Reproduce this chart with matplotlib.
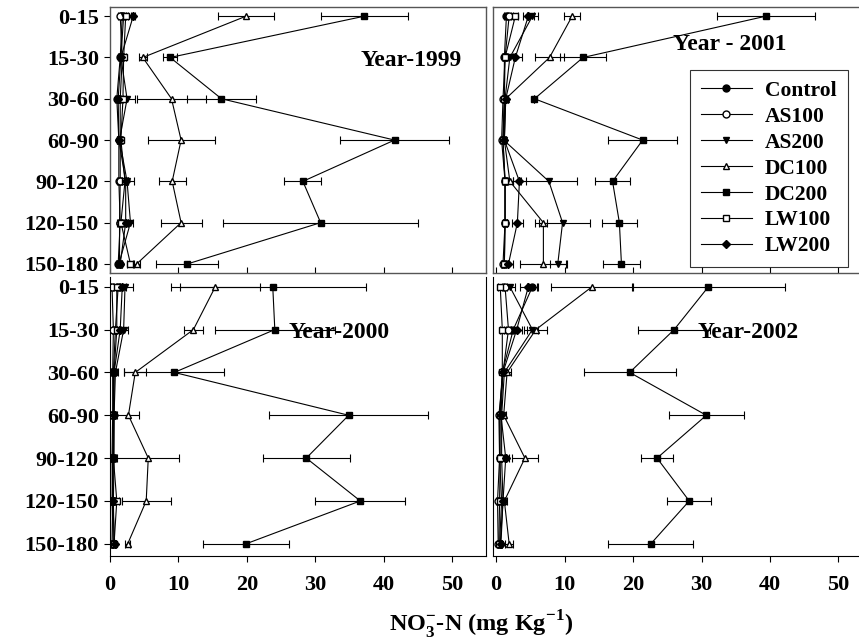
import matplotlib
matplotlib.use('Agg')
import matplotlib.pyplot as plt
from matplotlib.lines import Line2D
import numpy as np

plt.rcParams['font.family'] = ['Liberation Serif', 'DejaVu Serif']
plt.rcParams['font.weight'] = 'bold'
plt.rcParams['mathtext.fontset'] = 'custom'
plt.rcParams['mathtext.rm'] = 'Liberation Serif:bold'
plt.rcParams['mathtext.bf'] = 'Liberation Serif:bold'

depths = ['0-15', '15-30', '30-60', '60-90', '90-120', '120-150', '150-180']
treatments = ['Control', 'AS100', 'AS200', 'DC100', 'DC200', 'LW100', 'LW200']
markers = ['o', 'o', 'v', '^', 's', 's', 'D']
faces = ['black', 'white', 'black', 'white', 'black', 'white', 'black']

# NO3-N means per treatment, one list per year
y1999 = {
    'Control': [1.8, 1.5, 1.0, 1.3, 1.3, 1.5, 1.2],
    'AS100': [1.5, 1.8, 1.5, 1.5, 1.5, 1.4, 1.4],
    'AS200': [2.0, 1.6, 2.5, 1.4, 2.5, 3.0, 1.3],
    'DC100': [19.9, 4.8, 9.0, 10.4, 9.1, 10.4, 3.9],
    'DC200': [37.2, 8.8, 16.3, 41.6, 28.2, 30.8, 11.3],
    'LW100': [2.3, 2.0, 1.9, 1.6, 2.2, 1.6, 3.0],
    'LW200': [3.4, 1.6, 1.2, 1.3, 2.3, 2.3, 1.5],
}
e1999 = {
    'Control': [0.3, 0.3, 0.3, 0.3, 0.3, 0.3, 0.3],
    'AS100': [0.3, 0.3, 0.4, 0.3, 0.3, 0.3, 0.3],
    'AS200': [0.4, 0.3, 1.2, 0.3, 1.0, 0.4, 0.3],
    'DC100': [4.1, 0.6, 5.1, 4.9, 2.0, 3.0, 0.5],
    'DC200': [6.3, 1.0, 5.0, 7.9, 2.7, 14.3, 4.5],
    'LW100': [0.4, 0.3, 0.4, 0.3, 0.4, 0.3, 0.5],
    'LW200': [0.3, 0.3, 0.3, 0.3, 0.3, 0.3, 0.3],
}

y2001 = {
    'Control': [1.5, 1.2, 1.2, 1.0, 1.3, 1.3, 1.2],
    'AS100': [1.9, 1.3, 1.0, 0.8, 1.3, 1.3, 1.0],
    'AS200': [5.3, 2.0, 1.3, 1.1, 7.7, 9.7, 9.0],
    'DC100': [11.1, 7.8, 1.4, 1.2, 2.0, 6.9, 6.9],
    'DC200': [39.4, 12.7, 5.6, 21.4, 17.0, 18.0, 18.3],
    'LW100': [2.8, 1.3, 1.2, 1.0, 1.3, 1.3, 1.2],
    'LW200': [4.7, 2.8, 1.4, 1.2, 3.4, 3.1, 1.8],
}
e2001 = {
    'Control': [0.3, 0.3, 0.2, 0.2, 0.3, 0.3, 0.3],
    'AS100': [0.3, 0.3, 0.2, 0.2, 0.3, 0.3, 0.3],
    'AS200': [0.8, 0.5, 0.2, 0.2, 4.1, 4.0, 1.2],
    'DC100': [1.2, 2.1, 0.3, 0.3, 0.5, 0.6, 3.4],
    'DC200': [7.2, 3.4, 0.0, 5.0, 2.6, 2.6, 2.7],
    'LW100': [0.4, 0.3, 0.2, 0.2, 0.4, 0.3, 0.3],
    'LW200': [0.8, 1.0, 0.3, 0.3, 1.0, 0.8, 0.6],
}

y2000 = {
    'Control': [1.2, 0.8, 0.5, 0.5, 0.4, 0.3, 0.5],
    'AS100': [0.3, 0.5, 0.4, 0.4, 0.3, 0.4, 0.3],
    'AS200': [2.2, 2.0, 0.8, 0.6, 0.6, 0.5, 0.6],
    'DC100': [15.4, 12.2, 3.7, 2.7, 5.6, 5.3, 2.6],
    'DC200': [23.8, 24.1, 9.4, 34.9, 28.7, 36.6, 19.9],
    'LW100': [1.0, 1.0, 0.6, 0.5, 0.5, 1.0, 0.6],
    'LW200': [1.8, 1.5, 0.6, 0.6, 0.5, 0.4, 0.7],
}
e2000 = {
    'Control': [0.3, 0.3, 0.2, 0.2, 0.2, 0.2, 0.2],
    'AS100': [0.2, 0.2, 0.2, 0.2, 0.2, 0.2, 0.2],
    'AS200': [1.1, 0.7, 0.4, 0.3, 0.3, 0.2, 0.3],
    'DC100': [6.5, 1.4, 1.6, 1.6, 4.5, 3.6, 0.4],
    'DC200': [13.6, 8.8, 7.3, 11.6, 6.4, 6.6, 6.3],
    'LW100': [0.4, 0.3, 0.3, 0.2, 0.2, 0.3, 0.2],
    'LW200': [0.5, 0.4, 0.3, 0.2, 0.2, 0.2, 0.2],
}

y2002 = {
    'Control': [5.3, 2.5, 0.9, 0.6, 0.5, 0.8, 0.5],
    'AS100': [1.3, 1.8, 1.0, 0.4, 0.5, 0.2, 0.3],
    'AS200': [2.0, 5.3, 1.2, 0.8, 0.8, 1.0, 0.6],
    'DC100': [14.0, 5.8, 1.6, 1.1, 4.2, 1.2, 1.9],
    'DC200': [31.0, 26.0, 19.5, 30.7, 23.5, 28.2, 22.6],
    'LW100': [0.6, 0.9, 0.9, 0.5, 0.6, 0.5, 0.4],
    'LW200': [4.7, 3.0, 1.0, 0.7, 1.4, 1.0, 0.7],
}
e2002 = {
    'Control': [0.8, 0.5, 0.2, 0.2, 0.2, 0.2, 0.2],
    'AS100': [0.3, 0.4, 0.2, 0.2, 0.2, 0.2, 0.2],
    'AS200': [0.8, 0.8, 0.3, 0.2, 0.3, 0.3, 0.2],
    'DC100': [6.0, 1.7, 0.5, 0.4, 1.9, 0.4, 0.6],
    'DC200': [11.2, 5.3, 6.7, 5.5, 2.4, 3.2, 6.2],
    'LW100': [0.3, 0.3, 0.2, 0.2, 0.2, 0.2, 0.2],
    'LW200': [1.2, 0.8, 0.3, 0.2, 0.5, 0.3, 0.2],
}

fig = plt.figure(figsize=(8.59, 6.44), dpi=100)

# panel boxes in figure fractions
ax1 = fig.add_axes([0.128, 0.576, 0.438, 0.413])
ax2 = fig.add_axes([0.574, 0.576, 0.430, 0.413])
ax3 = fig.add_axes([0.128, 0.137, 0.438, 0.433])
ax4 = fig.add_axes([0.574, 0.137, 0.430, 0.433])

panels = [
    (ax1, y1999, e1999, 'Year-1999', (0.80, 0.80)),
    (ax2, y2001, e2001, 'Year - 2001', (0.64, 0.86)),
    (ax3, y2000, e2000, 'Year-2000', (0.61, 0.80)),
    (ax4, y2002, e2002, 'Year-2002', (0.69, 0.80)),
]

ypos = np.arange(len(depths))

for ax, vals, errs, title, tpos in panels:
    for name, m, fc in zip(treatments, markers, faces):
        ms = 4.2 if m == 'D' else 5
        ax.errorbar(vals[name], ypos, xerr=errs[name], fmt='-', marker=m,
                    color='black', mfc=fc, mec='black', ms=ms, lw=0.8,
                    elinewidth=0.8, capsize=3, capthick=0.8)
    ax.text(tpos[0], tpos[1], title, transform=ax.transAxes, fontsize=17,
            fontweight='bold', ha='center', va='center')
    ax.set_xticks([0, 10, 20, 30, 40, 50])

for ax in [ax1, ax3]:
    ax.set_xlim(0, 55)
    ax.set_yticks(ypos)
    ax.set_yticklabels(depths, fontsize=16, fontweight='bold')
for ax in [ax2, ax4]:
    ax.set_xlim(-0.45, 53.5)
    ax.set_yticks([])

for ax in [ax1, ax2]:
    ax.set_ylim(6.22, -0.22)
    ax.tick_params(axis='x', direction='in', length=4, labelbottom=False)
    for s in ax.spines.values():
        s.set_color('#555555')
        s.set_linewidth(1.0)
for ax in [ax3, ax4]:
    ax.set_ylim(6.28, -0.23)
    ax.spines['top'].set_visible(False)
    ax.tick_params(axis='x', direction='out', length=4, pad=10)
    for lab in ax.get_xticklabels():
        lab.set_fontsize(16)
        lab.set_fontweight('bold')
ax4.spines['right'].set_visible(False)
for ax in [ax1, ax3]:
    ax.tick_params(axis='y', direction='out', length=4, pad=4)

handles = []
for name, m, fc in zip(treatments, markers, faces):
    ms = 4.2 if m == 'D' else 5
    handles.append(Line2D([], [], color='black', lw=0.8, marker=m, mfc=fc,
                          mec='black', ms=ms, label=name))

leg = ax2.legend(handles=handles, loc='upper left',
                 bbox_to_anchor=(0.803, 0.891),
                 bbox_transform=fig.transFigure, fontsize=15.5, frameon=True,
                 fancybox=False, handlelength=2.4, handletextpad=0.6,
                 labelspacing=0.27, borderpad=0.5, borderaxespad=0)
leg.get_frame().set_edgecolor('black')
leg.get_frame().set_linewidth(0.8)
for t in leg.get_texts():
    t.set_fontweight('bold')

fig.text(0.56, 0.004, r'NO$_3^{-}$-N (mg Kg$^{-1}$)', fontsize=17.5,
         fontweight='bold', ha='center', va='bottom')

plt.savefig('out.png', dpi=100)
